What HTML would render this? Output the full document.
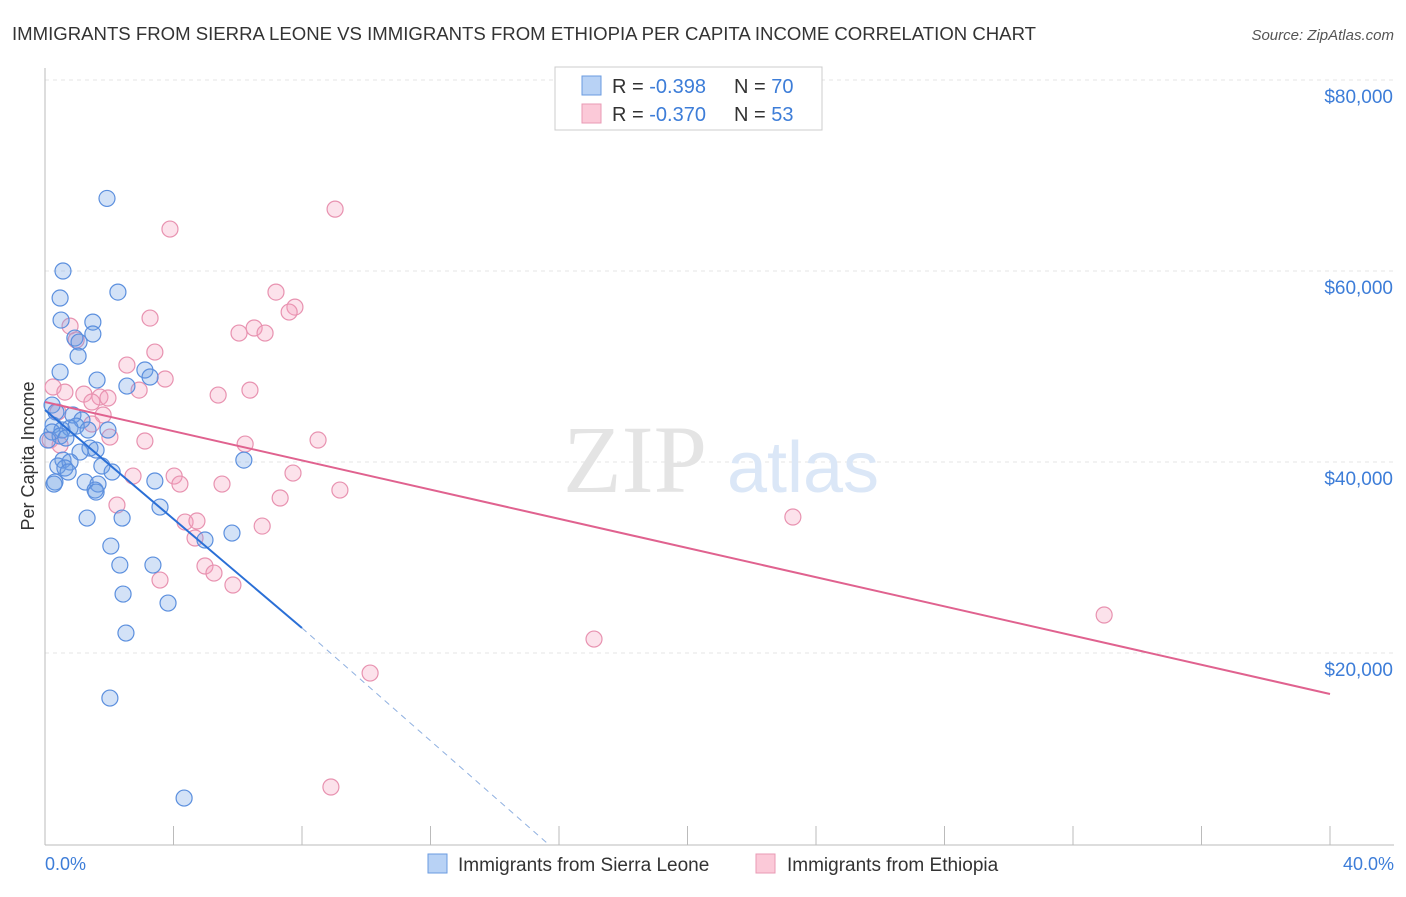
<!DOCTYPE html>
<html><head><meta charset="utf-8"><style>
body{margin:0;background:#fff;font-family:"Liberation Sans",sans-serif}
</style></head><body>
<svg id="chart" width="1406" height="892" xmlns="http://www.w3.org/2000/svg">
<text x="12" y="40" font-size="18" fill="#333" textLength="1024" lengthAdjust="spacingAndGlyphs">IMMIGRANTS FROM SIERRA LEONE VS IMMIGRANTS FROM ETHIOPIA PER CAPITA INCOME CORRELATION CHART</text>
<text x="1394" y="40" font-size="15" fill="#555" font-style="italic" text-anchor="end">Source: ZipAtlas.com</text>
<g id="grid"></g>
<text x="635" y="492" font-size="96" fill="#e4e4e4" font-family="Liberation Serif" text-anchor="middle">ZIP</text>
<text x="803" y="492" font-size="72" fill="#dbe7f7" text-anchor="middle">atlas</text>
<g id="marks"></g>
<text transform="translate(34,456) rotate(-90)" font-size="18" fill="#333" text-anchor="middle">Per Capita Income</text>
<text x="45" y="870" font-size="18" fill="#3d7dd8">0.0%</text>
<text x="1394" y="870" font-size="18" fill="#3d7dd8" text-anchor="end">40.0%</text>
<g>
<rect x="555" y="67" width="267" height="63" fill="#fff" stroke="#ccc"/>
<rect x="582" y="76" width="19" height="19" fill="#b8d2f5" stroke="#6a9be0"/>
<rect x="582" y="104" width="19" height="19" fill="#fbc9d8" stroke="#e89ab4"/>
<text x="612" y="93" font-size="20" fill="#333">R = <tspan fill="#3d7dd8">-0.398</tspan></text>
<text x="734" y="93" font-size="20" fill="#333">N = <tspan fill="#3d7dd8">70</tspan></text>
<text x="612" y="121" font-size="20" fill="#333">R = <tspan fill="#3d7dd8">-0.370</tspan></text>
<text x="734" y="121" font-size="20" fill="#333">N = <tspan fill="#3d7dd8">53</tspan></text>
</g>
<g>
<rect x="428" y="854" width="19" height="19" fill="#b8d2f5" stroke="#6a9be0"/>
<text x="458" y="871" font-size="19" fill="#333">Immigrants from Sierra Leone</text>
<rect x="756" y="854" width="19" height="19" fill="#fbc9d8" stroke="#e89ab4"/>
<text x="787" y="871" font-size="19" fill="#333">Immigrants from Ethiopia</text>
</g>
</svg>
<script>
const yTicks=[20000,40000,60000,80000];
const yTickLabels=["$20,000","$40,000","$60,000","$80,000"];
const xTicks=[0,4,8,12,16,20,24,28,32,36,40];
const blueX=[1.93,0.56,0.47,2.27,0.50,1.49,1.49,0.93,1.06,1.03,0.47,1.62,2.55,3.11,3.27,0.22,0.34,0.87,1.15,0.25,0.53,0.78,0.97,0.22,0.47,0.09,1.40,1.09,1.59,0.56,0.40,0.78,0.62,1.77,2.09,0.72,0.31,0.28,1.25,1.65,1.56,1.59,3.42,3.58,1.31,2.40,2.05,6.19,5.82,4.98,2.33,3.36,2.43,3.83,2.52,2.02,4.33,1.96,1.34,0.65];
const blueY=[67600,60000,57170,57790,54860,54650,53400,52980,52560,51090,49420,48580,47950,49630,48900,45960,45230,44920,44390,43870,43350,43560,43760,43140,42720,42300,41460,41040,41250,40200,39580,40000,39370,39580,38950,38950,37900,37690,37900,37690,37060,36850,38010,35280,34130,34130,31200,40200,32560,31830,29210,29210,26170,25230,22090,15280,4810,43350,43350,42510];
const pinkX=[9.03,3.89,7.19,7.78,7.60,3.27,0.78,6.51,6.04,6.85,0.97,3.42,2.55,3.74,2.93,6.38,0.25,0.62,5.39,1.21,1.71,1.96,1.46,1.81,0.40,1.46,2.02,3.11,6.23,8.50,7.72,2.74,4.02,4.20,5.51,9.18,7.32,2.24,4.36,4.73,6.76,23.28,4.67,4.98,5.26,3.58,5.85,32.97,17.09,10.12,8.90,0.16,0.47];
const pinkY=[66480,64390,57790,56220,55700,55070,54230,54030,53500,53500,52770,51510,50150,48690,47530,47530,47850,47320,47010,47110,46800,46700,46280,44920,45230,43980,42610,42200,41880,42300,38840,38530,38530,37690,37690,37060,36230,35490,33710,33820,33290,34240,32040,29110,28370,27640,27120,23980,21460,17900,5970,42300,41780];
const blueTrend=[[0,45440],[8,22620],[15.66,0]];
const pinkTrend=[[0,46280],[40,15710]];
const NS="http://www.w3.org/2000/svg";
const X=v=>45+v/40*1285, Y=v=>844-v/20000*191;
function mk(t,a,p){const e=document.createElementNS(NS,t);for(const k in a)e.setAttribute(k,a[k]);p.appendChild(e);return e;}
const grid=document.getElementById('grid'),marks=document.getElementById('marks');
yTicks.forEach((t,i)=>{
 const l=mk('line',{x1:45,x2:1394,y1:Y(t),y2:Y(t),stroke:'#e6e6e6','stroke-dasharray':'4,4'},grid);
 
 
 const tx=mk('text',{x:1393,y:Y(t)+23,'font-size':19,fill:'#3d7dd8','text-anchor':'end'},grid);
 tx.textContent=yTickLabels[i];
 
 
});
const tg=mk('line',{x1:45,x2:1394,y1:80,y2:80,stroke:'#e6e6e6','stroke-dasharray':'4,4'},grid);


const ya=mk('line',{x1:45,x2:45,y1:68,y2:845,stroke:'#bbb'},grid);


const xa=mk('line',{x1:45,x2:1394,y1:845,y2:845,stroke:'#bbb'},grid);


xTicks.forEach(t=>{
 const l=mk('line',{x1:X(t),x2:X(t),y1:826,y2:845,stroke:'#bbb'},grid);
 
 
});
function dots(xs,ys,fill,stroke,name){
 xs.forEach((x,i)=>{
  const c=mk('circle',{cx:X(x),cy:Y(ys[i]),r:8,fill:fill,stroke:stroke,'stroke-width':1.2},marks);
  
  
 });
}
dots(pinkX,pinkY,'rgba(244,160,190,0.3)','#e892b0','ethiopia-point');
dots(blueX,blueY,'rgba(110,160,230,0.3)','#5b8fde','sierra-leone-point');
const b1=mk('line',{x1:X(blueTrend[0][0]),y1:Y(blueTrend[0][1]),x2:X(blueTrend[1][0]),y2:Y(blueTrend[1][1]),stroke:'#2a6fd6','stroke-width':2},marks);


const b2=mk('line',{x1:X(blueTrend[1][0]),y1:Y(blueTrend[1][1]),x2:X(blueTrend[2][0]),y2:Y(blueTrend[2][1]),stroke:'#8fb0e0','stroke-width':1,'stroke-dasharray':'6,5'},marks);


const p1=mk('line',{x1:X(pinkTrend[0][0]),y1:Y(pinkTrend[0][1]),x2:X(pinkTrend[1][0]),y2:Y(pinkTrend[1][1]),stroke:'#e0628f','stroke-width':2},marks);


</script>
</body></html>
